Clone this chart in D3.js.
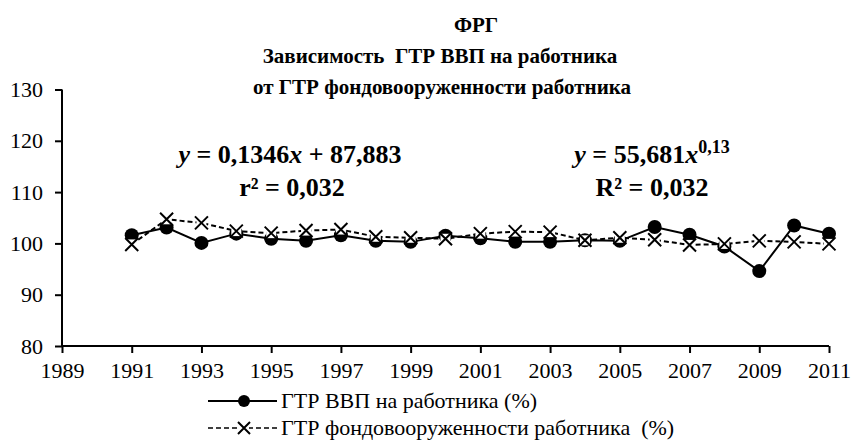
<!DOCTYPE html>
<html><head><meta charset="utf-8">
<script src="https://cdn.jsdelivr.net/npm/d3@7"></script>
<style>
html,body{margin:0;padding:0;background:#fff;}
svg{display:block;}
</style></head>
<body>
<svg id="c" width="851" height="446"></svg>
<script>
const years = [1991,1992,1993,1994,1995,1996,1997,1998,1999,2000,2001,2002,2003,2004,2005,2006,2007,2008,2009,2010,2011];
const gdpPerWorker = [101.6,103.1,100.1,101.9,100.9,100.5,101.6,100.5,100.3,101.5,101.0,100.3,100.3,100.6,100.5,103.2,101.7,99.4,94.6,103.5,101.9];
const capitalPerWorker = [99.8,104.7,104.0,102.4,102.0,102.5,102.7,101.3,101.1,100.9,101.9,102.3,102.2,100.6,101.1,100.7,99.7,99.9,100.5,100.3,99.9];
const xTicks = [1989,1991,1993,1995,1997,1999,2001,2003,2005,2007,2009,2011];
const yTicks = [80,90,100,110,120,130];
const titleLines = ["ФРГ","Зависимость  ГТР ВВП на работника","от ГТР фондовооруженности работника"];
const seriesNames = ["ГТР ВВП на работника (%)","ГТР фондовооруженности работника  (%)"];

const FONT = "'Liberation Serif','Times New Roman','DejaVu Serif',serif";
const svg = d3.select("#c").attr("font-family",FONT);
const x = d3.scaleLinear().domain([1989,2011]).range([62,829]);
const y = d3.scaleLinear().domain([80,130]).range([346,89.5]);

function txt(sel){ return sel.append("text").attr("font-family",FONT).attr("fill","#000"); }

// title
txt(svg).attr("x",476).attr("y",32).attr("text-anchor","middle")
  .attr("font-size",21).attr("font-weight","bold").text(titleLines[0]);
txt(svg).attr("x",440).attr("y",63).attr("text-anchor","middle")
  .attr("font-size",21).attr("font-weight","bold").style("white-space","pre").text(titleLines[1]);
txt(svg).attr("x",442).attr("y",94).attr("text-anchor","middle")
  .attr("font-size",21).attr("font-weight","bold").text(titleLines[2]);

// axes
const xAxis = svg.append("g").attr("transform","translate(0,346)")
  .call(d3.axisBottom(x).tickValues(xTicks).tickFormat(d3.format("d")).tickSize(7).tickPadding(9));
const yAxis = svg.append("g").attr("transform","translate(62,0)")
  .call(d3.axisLeft(y).tickValues(yTicks).tickFormat(d3.format("d")).tickSize(7).tickPadding(12));
[xAxis,yAxis].forEach(g=>{
  g.attr("font-family",FONT).attr("font-size",22);
  g.select(".domain").attr("stroke","#000").attr("stroke-width",2);
  g.selectAll(".tick line").attr("stroke","#000").attr("stroke-width",2);
  g.selectAll(".tick text").attr("font-size",22).attr("font-family",FONT).attr("fill","#000");
});
xAxis.select(".domain").attr("d","M62,0H829");
yAxis.select(".domain").attr("d","M0,89.5V346");

// series
const pts1 = years.map((yr,i)=>[yr,gdpPerWorker[i]]);
const pts2 = years.map((yr,i)=>[yr,capitalPerWorker[i]]);
const line = d3.line().x(d=>x(d[0])).y(d=>y(d[1]));
svg.append("path").datum(pts1).attr("d",line).attr("fill","none").attr("stroke","#000").attr("stroke-width",2);
svg.append("g").selectAll("circle").data(pts1).join("circle")
  .attr("cx",d=>x(d[0])).attr("cy",d=>y(d[1])).attr("r",7).attr("fill","#000");

svg.append("path").datum(pts2).attr("d",line).attr("fill","none").attr("stroke","#000")
  .attr("stroke-width",2).attr("stroke-dasharray","5,3");
const xm = svg.append("g").selectAll("g").data(pts2).join("g")
  .attr("transform",d=>`translate(${x(d[0])},${y(d[1])})`);
xm.append("rect").attr("x",-5).attr("y",-5).attr("width",10).attr("height",10).attr("fill","#fff");
xm.append("path").attr("d","M-6.5,-6.5L6.5,6.5M-6.5,6.5L6.5,-6.5").attr("stroke","#000").attr("stroke-width",2);

// trend labels
function eq(cx, cy, parts){
  const t = txt(svg).attr("x",cx).attr("y",cy).attr("text-anchor","middle")
    .attr("font-size",26).attr("font-weight","bold");
  parts.forEach(p=>{
    const s = t.append("tspan").text(p.t);
    if(p.i) s.attr("font-style","italic");
    if(p.sup) s.attr("font-size",18).attr("dy",-10);
  });
}
eq(290,163,[{t:"y",i:1},{t:" = 0,1346"},{t:"x",i:1},{t:" + 87,883"}]);
eq(292,196,[{t:"r² = 0,032"}]);
eq(652,163,[{t:"y",i:1},{t:" = 55,681"},{t:"x",i:1},{t:"0,13",sup:1}]);
eq(652,196,[{t:"R² = 0,032"}]);

// legend
const lg = svg.append("g");
lg.append("line").attr("x1",208).attr("x2",277).attr("y1",401).attr("y2",401).attr("stroke","#000").attr("stroke-width",2);
lg.append("circle").attr("cx",244).attr("cy",401).attr("r",6).attr("fill","#000");
txt(lg).attr("x",281).attr("y",408).attr("font-size",22).text(seriesNames[0]);
lg.append("line").attr("x1",208).attr("x2",277).attr("y1",428).attr("y2",428).attr("stroke","#000").attr("stroke-width",1.5).attr("stroke-dasharray","5,3");
lg.append("rect").attr("x",239).attr("y",423).attr("width",10).attr("height",10).attr("fill","#fff");
lg.append("path").attr("d","M238,422L250,434M238,434L250,422").attr("stroke","#000").attr("stroke-width",2);
txt(lg).attr("x",281).attr("y",435).attr("font-size",22).style("white-space","pre").text(seriesNames[1]);
</script>
</body></html>
